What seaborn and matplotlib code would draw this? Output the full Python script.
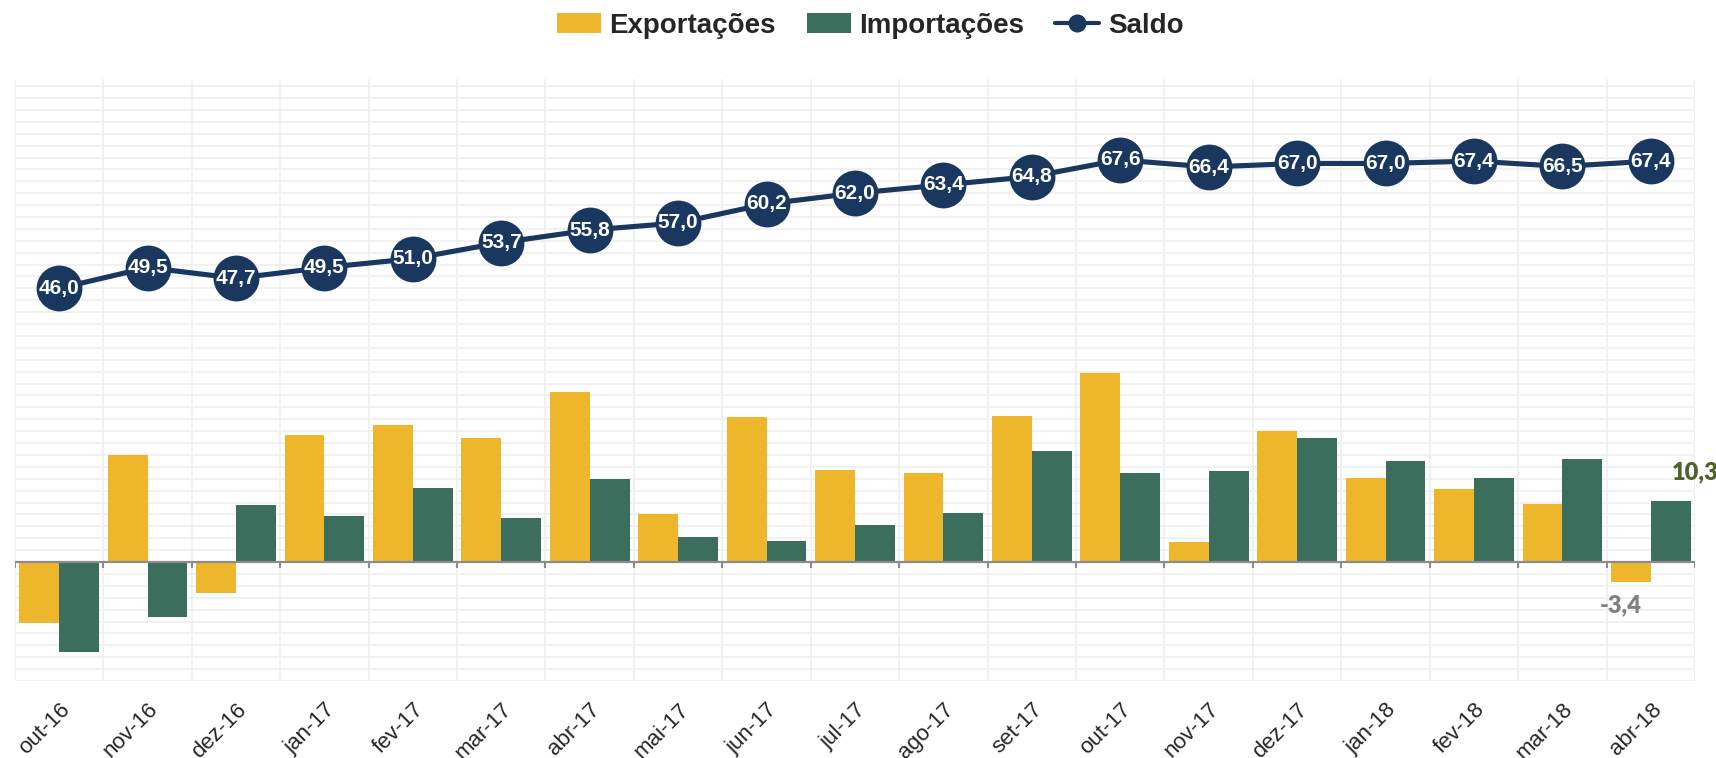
import numpy as np
import pandas as pd
import seaborn as sns
import matplotlib.pyplot as plt
from matplotlib.patches import Patch
from matplotlib.lines import Line2D

# dados
meses = ["out-16", "nov-16", "dez-16", "jan-17", "fev-17", "mar-17", "abr-17", "mai-17",
         "jun-17", "jul-17", "ago-17", "set-17", "out-17", "nov-17", "dez-17", "jan-18",
         "fev-18", "mar-18", "abr-18"]
exportacoes = [-10.3, 18.0, -5.2, 21.3, 23.0, 20.8, 28.5, 8.0, 24.4, 15.5, 15.0, 24.6,
               31.8, 3.3, 22.1, 14.2, 12.3, 9.7, -3.4]
importacoes = [-15.2, -9.2, 9.6, 7.7, 12.4, 7.4, 13.9, 4.2, 3.6, 6.2, 8.3, 18.6,
               14.9, 15.3, 20.8, 17.0, 14.2, 17.3, 10.3]
saldo = [46.0, 49.5, 47.7, 49.5, 51.0, 53.7, 55.8, 57.0, 60.2, 62.0, 63.4, 64.8,
         67.6, 66.4, 67.0, 67.0, 67.4, 66.5, 67.4]

amarelo = "#EEB72B"
verde = "#3C6E5E"
azul = "#1A3760"

df_barras = pd.DataFrame({
    "mes": meses * 2,
    "valor": exportacoes + importacoes,
    "serie": ["Exportações"] * len(meses) + ["Importações"] * len(meses),
})
df_saldo = pd.DataFrame({"pos": np.arange(len(meses)), "saldo": saldo})

sns.set_style("white")
plt.rcParams["font.family"] = ["Liberation Sans", "DejaVu Sans"]

fig = plt.figure(figsize=(17.16, 7.58), dpi=100)
ax = fig.add_axes([0.0087, 0.1016, 0.9791, 0.7942])

sns.barplot(data=df_barras, x="mes", y="valor", hue="serie", order=meses,
            hue_order=["Exportações", "Importações"], palette=[amarelo, verde],
            width=0.9, saturation=1, linewidth=0, legend=False, ax=ax, zorder=2)

sns.lineplot(data=df_saldo, x="pos", y="saldo", color=azul, lw=3.7, marker="o",
             markersize=33, markeredgewidth=0, ax=ax, zorder=5)
for i, v in enumerate(saldo):
    ax.text(i, v, f"{v:.1f}".replace(".", ","), ha="center", va="center",
            color="white", fontsize=15, fontweight="bold", zorder=6)

# grade
ax.set_xlim(-0.5, len(meses) - 0.5)
ax.set_ylim(-20, 81.2)
ax.set_yticks(np.arange(-20, 82, 2))
ax.set_yticklabels([])
ax.set_xticks(np.arange(len(meses)))
ax.set_xticklabels(meses, rotation=45, ha="right", rotation_mode="anchor", fontsize=16)
ax.set_xticks(np.arange(-0.5, len(meses), 1), minor=True)
ax.tick_params(axis="both", which="both", length=0)
ax.tick_params(axis="x", pad=13)
ax.yaxis.grid(True, color="#EFEFEF", lw=1.2)
ax.xaxis.grid(True, which="minor", color="#EFEFEF", lw=1.2)
ax.xaxis.grid(False, which="major")
ax.set_axisbelow(True)
for s in ax.spines.values():
    s.set_visible(False)
ax.set_xlabel("")
ax.set_ylabel("")

# eixo no zero
ax.axhline(0, color="#8C8C8C", lw=1.6, zorder=3)
ax.vlines(np.arange(-0.5, len(meses), 1), -1.0, 0, color="#8C8C8C", lw=1.5, zorder=3)

# rótulos do último mês
ax.text(18.5, 15.0, "10,3", ha="center", va="center", color="#4F6228",
        fontsize=17, fontweight="heavy", family=["Lato", "DejaVu Sans"], clip_on=False)
ax.text(17.66, -7.3, "-3,4", ha="center", va="center", color="#808080",
        fontsize=17, fontweight="heavy", family=["Lato", "DejaVu Sans"])

handles = [
    Patch(facecolor=amarelo, edgecolor="none"),
    Patch(facecolor=verde, edgecolor="none"),
    Line2D([], [], color=azul, lw=3, marker="o", markersize=12),
]
fig.legend(handles, ["Exportações", "Importações", "Saldo"], loc="center",
           bbox_to_anchor=(0.507, 0.966), ncol=3, frameon=False,
           prop={"weight": "bold", "size": 20}, handlelength=1.6,
           handletextpad=0.3, columnspacing=1.1)

plt.savefig("out.png", dpi=100)
plt.close()
